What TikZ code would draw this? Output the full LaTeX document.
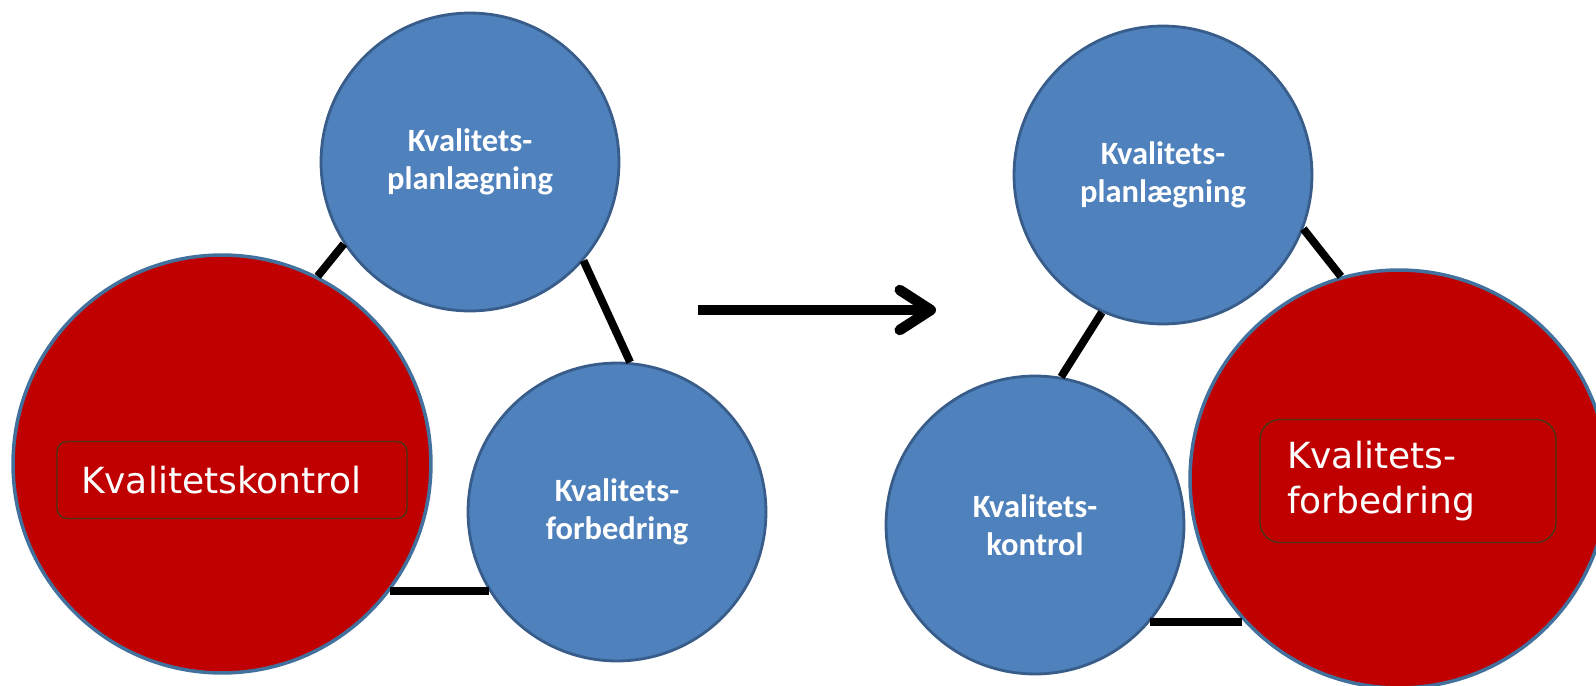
\documentclass[tikz,border=0pt]{standalone}
\usepackage{fontspec}
\usepackage{tikz}
\usetikzlibrary{arrows.meta}

\newfontfamily\tagfont{DejaVu Sans}
\newfontfamily\phasefont{Carlito}

\definecolor{qblue}{HTML}{4F81BD}
\definecolor{qblueline}{HTML}{385D8A}
\definecolor{qred}{HTML}{C00000}
\definecolor{qredline}{HTML}{41719C}
\definecolor{qbox}{HTML}{4A3317}

\tikzset{
    phase/.style={circle, inner sep=0pt, minimum size=5.96cm, fill=qblue, draw=qblueline, line width=1.6pt,
        text=white, align=center, font=\phasefont\bfseries\fontsize{18.5}{21.6}\selectfont},
    focus/.style={circle, inner sep=0pt, minimum size=8.36cm, fill=qred, draw=qredline, line width=2pt},
    tag/.style={rectangle, draw=qbox, line width=0.8pt, text=white, align=left, inner ysep=0pt,
        font=\tagfont\fontsize{20.5}{25.6}\selectfont},
    link/.style={line width=4.5pt, black},
}

\begin{document}
\begin{tikzpicture}[x=0.02cm, y=-0.02cm]
    \useasboundingbox (0,0) rectangle (1596,686);

    \node[focus] (kontrolA) at (222,464) {};
    \node[phase] (planA) at (470,162) {Kvalitets-\\planlægning};
    \node[phase] (forbedA) at (617,512) {Kvalitets-\\forbedring};
    \node[tag, rounded corners=0.2cm, inner xsep=0.48cm, text width=6.04cm, minimum height=1.54cm] (tagA) at (232,480) {Kvalitetskontrol};

    \draw[link] (kontrolA.63.7) -- (planA.213);
    \draw[link] (planA.-41.6) -- (forbedA.85.9);
    \draw[link] (kontrolA.-37.6) -- (kontrolA.-37.6 -| forbedA.212.5);

    \coordinate (from) at (698,310);
    \coordinate (to) at (936,310);
    \draw[line width=0.21cm, -{Straight Barb[round, length=0.62cm, width=0.8cm]}] (from) -- (to);

    \node[phase] (planB) at (1163,175) {Kvalitets-\\planlægning};
    \node[phase] (kontrolB) at (1035,525) {Kvalitets-\\kontrol};
    \node[focus] (forbedB) at (1399,479) {};
    \node[tag, rounded corners=0.4cm, inner xsep=0.54cm, text width=4.84cm, minimum height=2.46cm] (tagB) at (1408,481) {Kvalitets-\\forbedring};

    \draw[link] (planB.246) -- (kontrolB.80.5);
    \draw[link] (planB.-21.9) -- (forbedB.106.5);
    \draw[link] (kontrolB.-40) -- (kontrolB.-40 -| forbedB.222.8);
\end{tikzpicture}
\end{document}
